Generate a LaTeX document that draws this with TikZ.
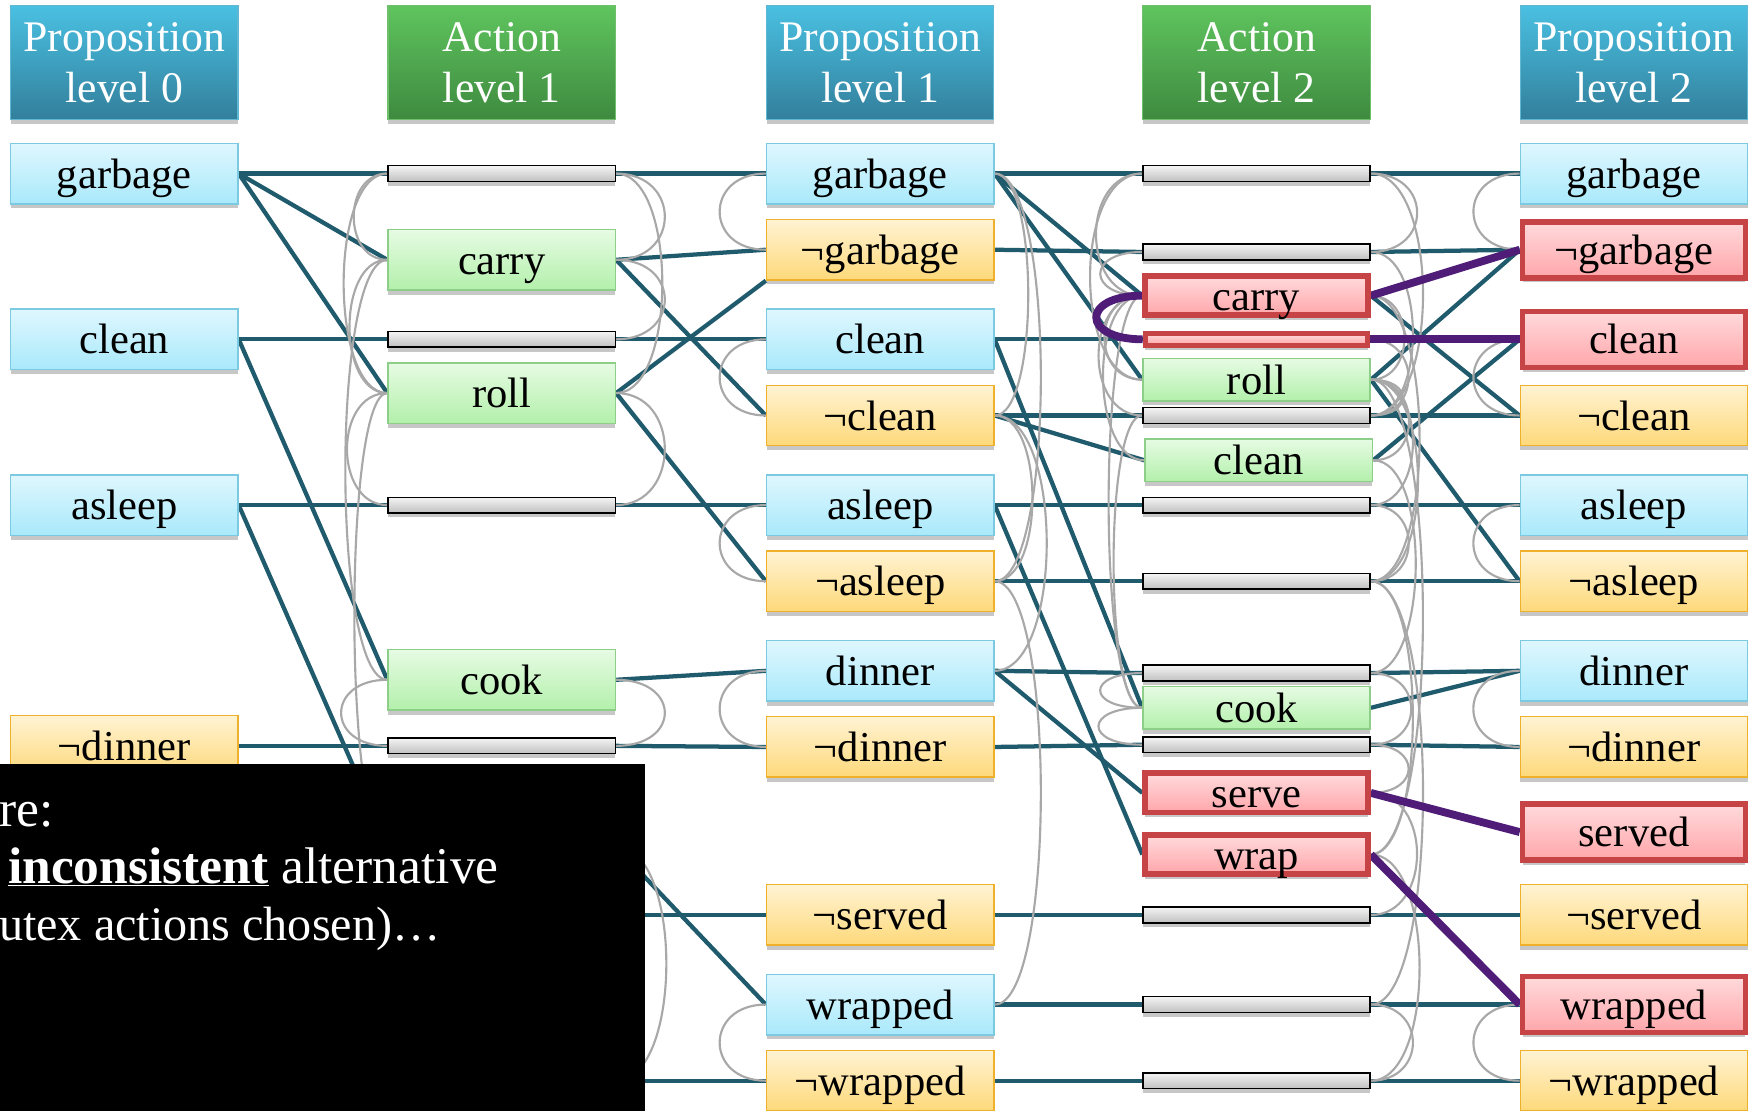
\documentclass[tikz,border=0pt]{standalone}
\usepackage{fontspec}
\setmainfont{Liberation Serif}
\usetikzlibrary{shadows,backgrounds}

\definecolor{posT}{HTML}{DFF7FE}
\definecolor{posB}{HTML}{A9E9FB}
\definecolor{posD}{HTML}{7CC9E2}
\definecolor{negT}{HTML}{FFF3D3}
\definecolor{negB}{HTML}{FED97A}
\definecolor{negD}{HTML}{EFB12C}
\definecolor{actT}{HTML}{E6FBE3}
\definecolor{actB}{HTML}{B3F0AB}
\definecolor{actD}{HTML}{8DCF88}
\definecolor{hotT}{HTML}{FFDADC}
\definecolor{hotB}{HTML}{FFA6AA}
\definecolor{hotD}{HTML}{C64346}
\definecolor{barT}{HTML}{F4F4F4}
\definecolor{barB}{HTML}{C0C0C0}
\definecolor{hbT}{HTML}{4AC0E2}
\definecolor{hbB}{HTML}{327F9B}
\definecolor{hbD}{HTML}{5FB7D2}
\definecolor{hgT}{HTML}{5FC45E}
\definecolor{hgB}{HTML}{3E8A3F}
\definecolor{hgD}{HTML}{6FBF6C}
\definecolor{wireC}{HTML}{1F5B6D}
\definecolor{mtxC}{HTML}{A8A8A8}
\definecolor{hilC}{HTML}{4F1D78}

% mutex arcs on the left / right side of a column
\newcommand\mxL[3]{\draw[mtx] (#1.west) .. controls +(-#3,0) and +(-#3,0) .. (#2.west);}
\newcommand\mxR[3]{\draw[mtx] (#1.east) .. controls +(#3,0) and +(#3,0) .. (#2.east);}

\tikzset{
  shd/.style={drop shadow={shadow xshift=0pt,shadow yshift=-4pt,opacity=.22,fill=black}},
  basebox/.style={rectangle,minimum width=203pt,minimum height=54pt,inner sep=0pt,
    font=\fontsize{38}{42}\selectfont,text height=28pt,text depth=2pt,shd},
  pbox/.style={basebox,draw=posD,line width=1.3pt,top color=posT,bottom color=posB},
  nbox/.style={basebox,draw=negD,line width=1.3pt,top color=negT,bottom color=negB},
  abox/.style={basebox,draw=actD,line width=1.3pt,top color=actT,bottom color=actB},
  asbox/.style={abox,minimum height=38pt},
  hpbox/.style={basebox,draw=hotD,line width=5pt,minimum width=199pt,minimum height=50pt,
    top color=hotT,bottom color=hotB},
  habox/.style={hpbox,minimum height=35pt},
  nbar/.style={rectangle,minimum width=203pt,minimum height=14pt,inner sep=0pt,
    draw=black,line width=1.3pt,top color=barT,bottom color=barB,shd},
  hbar/.style={nbar,draw=hotD,line width=4.5pt,minimum width=199pt,minimum height=11pt,
    top color=hotT,bottom color=hotB},
  headbox/.style={rectangle,minimum width=203pt,minimum height=102pt,inner sep=0pt,
    align=center,text=white,font=\fontsize{39}{45}\selectfont,shd},
  headP/.style={headbox,top color=hbT,bottom color=hbB,draw=hbD,line width=1pt},
  headA/.style={headbox,top color=hgT,bottom color=hgB,draw=hgD,line width=1pt},
  wire/.style={draw=wireC,line width=3.8pt},
  mtx/.style={draw=mtxC,line width=1.9pt},
  hil/.style={draw=hilC,line width=7pt},
  wtext/.style={text=white,font=\fontsize{46}{50}\selectfont,inner sep=0pt,anchor=base west},
}

\begin{document}
\begin{tikzpicture}[x=1pt,y=-1pt]
\useasboundingbox (0,0) rectangle (1568,992);

% ---- headers
\node[headP] (H0) at (111,56)  {Proposition\\level 0};
\node[headA] (H1) at (448,56)  {Action\\level 1};
\node[headP] (H2) at (786,56)  {Proposition\\level 1};
\node[headA] (H3) at (1122,56) {Action\\level 2};
\node[headP] (H4) at (1459,56) {Proposition\\level 2};

% ---- proposition level 0
\node[pbox] (g0)  at (111,155) {garbage};
\node[pbox] (c0)  at (111,303) {clean};
\node[pbox] (a0)  at (111,451) {asleep};
\node[nbox] (nd0) at (111,666) {¬dinner};

% ---- action level 1
\node[nbar] (n1g)    at (448,155) {};
\node[abox] (carry1) at (448,232) {carry};
\node[nbar] (n1c)    at (448,303) {};
\node[abox] (roll1)  at (448,351) {roll};
\node[nbar] (n1a)    at (448,451) {};
\node[abox] (cook1)  at (448,607) {cook};
\node[nbar] (n1nd)   at (448,666) {};
\coordinate (w1w)   at (347,756);
\coordinate (w1e)   at (550,756);
\coordinate (n1nse) at (550,817);
\coordinate (n1nwe) at (550,965);

% ---- proposition level 1
\node[pbox] (g1)   at (786,155) {garbage};
\node[nbox] (ng1)  at (786,223) {¬garbage};
\node[pbox] (c1)   at (786,303) {clean};
\node[nbox] (nc1)  at (786,371) {¬clean};
\node[pbox] (as1)  at (786,451) {asleep};
\node[nbox] (nas1) at (786,519) {¬asleep};
\node[pbox] (d1)   at (786,599) {dinner};
\node[nbox] (nd1)  at (786,667) {¬dinner};
\node[nbox] (ns1)  at (786,817) {¬served};
\node[pbox] (wr1)  at (786,897) {wrapped};
\node[nbox] (nwr1) at (786,965) {¬wrapped};

% ---- action level 2
\node[nbar]  (m1)     at (1122,155) {};
\node[nbar]  (m2)     at (1122,225) {};
\node[habox] (carry2) at (1122,264) {carry};
\node[hbar]  (m3)     at (1122,303) {};
\node[asbox] (roll2)  at (1122,339) {roll};
\node[nbar]  (m4)     at (1122,371) {};
\node[asbox] (clean2) at (1124,411) {clean};
\node[nbar]  (m5)     at (1122,451) {};
\node[nbar]  (m6)     at (1122,519) {};
\node[nbar]  (m7)     at (1122,601) {};
\node[asbox] (cook2)  at (1122,632) {cook};
\node[nbar]  (m8)     at (1122,665) {};
\node[habox] (serve2) at (1122,708) {serve};
\node[habox] (wrap2)  at (1122,763) {wrap};
\node[nbar]  (m9)     at (1122,817) {};
\node[nbar]  (m10)    at (1122,897) {};
\node[nbar]  (m11)    at (1122,965) {};

% ---- proposition level 2
\node[pbox]  (g2)   at (1459,155) {garbage};
\node[hpbox] (ng2)  at (1459,223) {¬garbage};
\node[hpbox] (c2)   at (1459,303) {clean};
\node[nbox]  (nc2)  at (1459,371) {¬clean};
\node[pbox]  (as2)  at (1459,451) {asleep};
\node[nbox]  (nas2) at (1459,519) {¬asleep};
\node[pbox]  (d2)   at (1459,599) {dinner};
\node[nbox]  (nd2)  at (1459,667) {¬dinner};
\node[hpbox] (sv2)  at (1459,743) {served};
\node[nbox]  (nsv2) at (1459,817) {¬served};
\node[hpbox] (wr2)  at (1459,897) {wrapped};
\node[nbox]  (nwr2) at (1459,965) {¬wrapped};

\begin{pgfonlayer}{background}
\fill[white] (0,0) rectangle (1568,992);

% preconditions and effects
\draw[wire] (g0.east) -- (n1g.west);
\draw[wire] (g0.east) -- (carry1.west);
\draw[wire] (g0.east) -- (roll1.west);
\draw[wire] (c0.east) -- (n1c.west);
\draw[wire] (c0.east) -- (cook1.west);
\draw[wire] (a0.east) -- (n1a.west);
\draw[wire] (a0.east) -- (w1w);
\draw[wire] (nd0.east) -- (n1nd.west);

\draw[wire] (n1g.east) -- (g1.west);
\draw[wire] (carry1.east) -- (ng1.west);
\draw[wire] (carry1.east) -- (nc1.west);
\draw[wire] (n1c.east) -- (c1.west);
\draw[wire] (roll1.east) -- (ng1.south west);
\draw[wire] (roll1.east) -- (nas1.west);
\draw[wire] (n1a.east) -- (as1.west);
\draw[wire] (cook1.east) -- (d1.west);
\draw[wire] (n1nd.east) -- (nd1.west);
\draw[wire] (n1nse) -- (ns1.west);
\draw[wire] (w1e) -- (wr1.west);
\draw[wire] (n1nwe) -- (nwr1.west);

\draw[wire] (g1.east) -- (m1.west);
\draw[wire] (g1.east) -- (carry2.west);
\draw[wire] (g1.east) -- (roll2.west);
\draw[wire] (ng1.east) -- (m2.west);
\draw[wire] (c1.east) -- (m3.west);
\draw[wire] (c1.east) -- (cook2.west);
\draw[wire] (nc1.east) -- (m4.west);
\draw[wire] (nc1.east) -- (clean2.west);
\draw[wire] (as1.east) -- (m5.west);
\draw[wire] (as1.east) -- (wrap2.west);
\draw[wire] (nas1.east) -- (m6.west);
\draw[wire] (d1.east) -- (m7.west);
\draw[wire] (d1.east) -- (serve2.west);
\draw[wire] (nd1.east) -- (m8.west);
\draw[wire] (ns1.east) -- (m9.west);
\draw[wire] (wr1.east) -- (m10.west);
\draw[wire] (nwr1.east) -- (m11.west);

\draw[wire] (m1.east) -- (g2.west);
\draw[wire] (m2.east) -- (ng2.west);
\draw[wire] (carry2.east) -- (nc2.west);
\draw[wire] (roll2.east) -- (ng2.west);
\draw[wire] (roll2.east) -- (nas2.west);
\draw[wire] (m4.east) -- (nc2.west);
\draw[wire] (clean2.east) -- (c2.west);
\draw[wire] (m5.east) -- (as2.west);
\draw[wire] (m6.east) -- (nas2.west);
\draw[wire] (m7.east) -- (d2.west);
\draw[wire] (cook2.east) -- (d2.west);
\draw[wire] (m8.east) -- (nd2.west);
\draw[wire] (m9.east) -- (nsv2.west);
\draw[wire] (m10.east) -- (wr2.west);
\draw[wire] (m11.east) -- (nwr2.west);

% mutexes, action level 1
\mxL{n1g}{carry1}{40}
\mxL{n1g}{roll1}{52}
\mxL{carry1}{roll1}{45}
\mxL{carry1}{cook1}{50}
\mxL{roll1}{n1a}{48}
\draw[mtx] (roll1.west) .. controls +(-40,0) and +(-40,0) .. (w1w);
\mxL{cook1}{n1nd}{55}
\mxR{n1g}{carry1}{58}
\mxR{n1g}{roll1}{55}
\mxR{carry1}{n1c}{58}
\mxR{roll1}{n1a}{58}
\mxR{cook1}{n1nd}{58}
\draw[mtx] (w1e) .. controls +(60,0) and +(60,0) .. (n1nwe);

% mutexes, proposition level 1
\mxL{g1}{ng1}{55}
\mxL{c1}{nc1}{55}
\mxL{as1}{nas1}{55}
\mxL{d1}{nd1}{55}
\mxL{wr1}{nwr1}{55}
\mxR{g1}{nc1}{40}
\mxR{g1}{nas1}{55}
\mxR{nc1}{nas1}{45}
\mxR{nc1}{d1}{62}
\mxR{nas1}{wr1}{55}

% mutexes, action level 2
\mxL{m1}{carry2}{55}
\mxL{m1}{roll2}{62}
\mxL{m2}{carry2}{50}
\mxL{carry2}{roll2}{45}
\mxL{carry2}{m4}{52}
\mxL{carry2}{clean2}{48}
\mxL{carry2}{cook2}{40}
\mxL{m4}{cook2}{34}
\mxL{m7}{cook2}{50}
\mxL{cook2}{m8}{52}
\mxR{m1}{m2}{55}
\mxR{m1}{m4}{62}
\mxR{m2}{m4}{50}
\mxR{carry2}{roll2}{40}
\mxR{carry2}{m6}{58}
\mxR{m3}{m4}{45}
\mxR{roll2}{m4}{38}
\mxR{roll2}{clean2}{44}
\mxR{roll2}{m5}{50}
\mxR{roll2}{m6}{56}
\mxR{roll2}{wrap2}{62}
\mxR{clean2}{m7}{52}
\mxR{m5}{m6}{45}
\mxR{m6}{wrap2}{50}
\mxR{m6}{m10}{62}
\mxR{m7}{m8}{48}
\mxR{m8}{serve2}{45}
\mxR{serve2}{m9}{55}
\mxR{wrap2}{m11}{58}
\mxR{m10}{m11}{50}

% mutexes, proposition level 2
\mxL{g2}{ng2}{55}
\mxL{c2}{nc2}{55}
\mxL{as2}{nas2}{55}
\mxL{d2}{nd2}{55}
\mxL{wr2}{nwr2}{55}

% the highlighted choice
\draw[hil] (carry2.east) -- (ng2.west);
\draw[hil] (m3.east) -- (c2.west);
\draw[hil] (serve2.east) -- (sv2.west);
\draw[hil] (wrap2.east) -- (wr2.west);
\draw[hil] (carry2.west) .. controls +(-55,0) and +(-55,0) .. (m3.west);
\end{pgfonlayer}

% ---- text panel
\fill[black] (0,682) rectangle (576,992);
\node[wtext] (t1) at (-1,738) {re:};
\node[wtext] (t2) at (7,789) {\underline{\textbf{inconsistent}} alternative};
\node[wtext,font=\fontsize{43}{50}\selectfont] (t3) at (-1,840) {utex actions chosen)…};
\end{tikzpicture}
\end{document}
